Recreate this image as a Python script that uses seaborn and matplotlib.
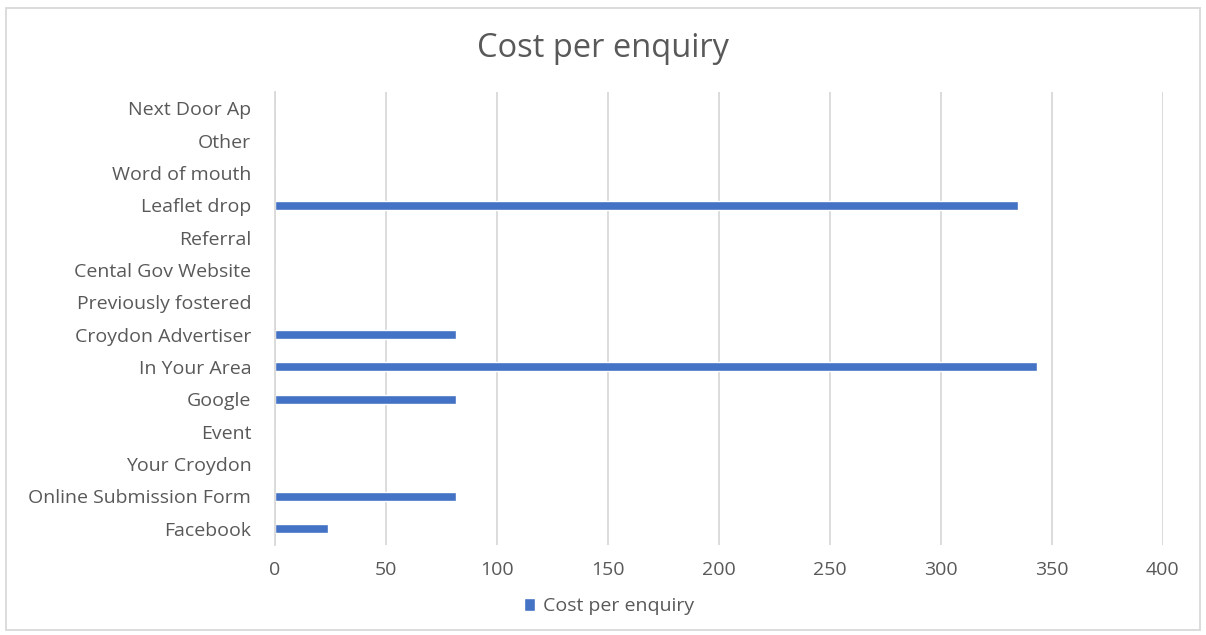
import pandas as pd
import matplotlib.pyplot as plt
import seaborn as sns
from matplotlib.patches import Rectangle

# Cost per enquiry by source (top to bottom as shown)
sources = ['Next Door Ap', 'Other', 'Word of mouth', 'Leaflet drop', 'Referral',
           'Cental Gov Website', 'Previously fostered', 'Croydon Advertiser',
           'In Your Area', 'Google', 'Event', 'Your Croydon',
           'Online Submission Form', 'Facebook']
cost = [0, 0, 0, 335, 0, 0, 0, 81.5, 343.5, 81.5, 0, 0, 81.5, 24]
xticks = [0, 50, 100, 150, 200, 250, 300, 350, 400]

df = pd.DataFrame({'source': sources, 'cost': cost})

sns.set_style('white')
plt.rcParams['font.family'] = ['Open Sans', 'DejaVu Sans']
text_col = '#595959'
grid_col = '#d9d9d9'
bar_col = '#4472c4'

fig = plt.figure(figsize=(12.06, 6.35), dpi=100)
ax = fig.add_axes([0.228, 0.142, 0.736, 0.713])

sns.barplot(data=df, x='cost', y='source', order=sources, color=bar_col,
            width=0.28, saturation=1, ax=ax, label='Cost per enquiry')

ax.set_xlim(0, 400)
ax.set_ylim(len(sources) - 0.5, -0.5)
ax.set_xticks(xticks)
ax.set_xticklabels([str(t) for t in xticks])
ax.set_xlabel('')
ax.set_ylabel('')
ax.grid(axis='x', color=grid_col, linewidth=1.3)
ax.set_axisbelow(True)
for s in ['top', 'right', 'bottom']:
    ax.spines[s].set_visible(False)
ax.spines['left'].set_color(grid_col)
ax.spines['left'].set_linewidth(1.3)

ax.tick_params(axis='x', length=0, labelsize=14, labelcolor=text_col, pad=12)
ax.tick_params(axis='y', which='major', length=0, labelsize=14, labelcolor=text_col, pad=17)
ax.set_yticks([i + 0.5 for i in range(-1, len(sources))], minor=True)
ax.tick_params(axis='y', which='minor', length=6, width=1.3, color=grid_col)

fig.text(0.5, 0.924, 'Cost per enquiry', ha='center', va='center',
         fontsize=23.5, color=text_col)

# legend centred on the whole figure, like the Excel original
ax.legend(loc='center', bbox_to_anchor=(0.505, 0.045), bbox_transform=fig.transFigure,
          frameon=False, fontsize=14, labelcolor=text_col, handlelength=0.6,
          handleheight=0.6, handletextpad=0.4)

fig.patches.append(Rectangle((0.005, 0.008), 0.99, 0.98, transform=fig.transFigure,
                             fill=False, edgecolor=grid_col, linewidth=1.3))

fig.savefig('out.png', dpi=100)
